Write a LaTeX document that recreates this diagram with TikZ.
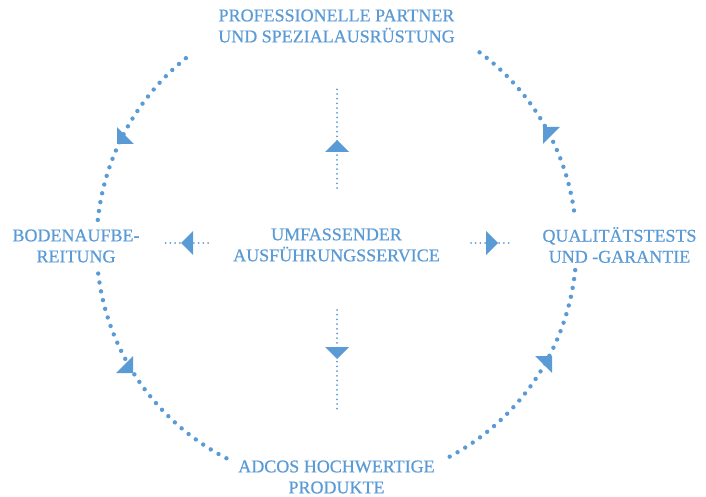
\documentclass[tikz,border=0pt]{standalone}
\usepackage{fontspec}
\setmainfont{Liberation Serif}
\newfontfamily\schrift[FakeBold=0.6]{Liberation Serif}
\definecolor{blau}{RGB}{91,155,213}
\tikzset{
  lbl/.style={text=blau, align=center, inner sep=0pt,
    font=\schrift\fontsize{18}{21}\selectfont},
  ring/.style={draw=blau, line width=4.4pt, line cap=round,
    dash pattern=on 0pt off 9pt},
  fine/.style={draw=blau, line width=2pt, line cap=round,
    dash pattern=on 0pt off 4.7pt},
  spitze/.pic={\fill[blau] (0,0) -- (-12,12) -- (-12,-12) -- cycle;}
}
\begin{document}
\begin{tikzpicture}[x=1pt, y=-1pt]
  \useasboundingbox (0,0) rectangle (706,497);
  \coordinate (c) at (336.5,245);
  \node[lbl] (partner) at (336.5,26) {PROFESSIONELLE PARTNER\\UND SPEZIALAUSRÜSTUNG};
  \node[lbl] (boden) at (76,246) {BODENAUFBE-\\REITUNG};
  \node[lbl] (service) at (336.5,245) {UMFASSENDER\\AUSFÜHRUNGSSERVICE};
  \node[lbl] (tests) at (619.5,245) {QUALITÄTSTESTS\\UND -GARANTIE};
  \node[lbl] (adcos) at (336.5,477) {ADCOS HOCHWERTIGE\\PRODUKTE};
  % outer ring
  \draw[ring] (c) ++(-53.4:240) arc[start angle=-53.4, end angle=-8, radius=240];
  \draw[ring] (c) ++(6:240) arc[start angle=6, end angle=64, radius=240];
  \draw[ring] (c) ++(117.3:240) arc[start angle=117.3, end angle=173.3, radius=240];
  \draw[ring] (c) ++(186:240) arc[start angle=186, end angle=233.2, radius=240];
  \pic[rotate=135] at (543,127) {spitze};
  \pic[rotate=225] at (117,144) {spitze};
  \pic[rotate=-45] at (133,373) {spitze};
  \pic[rotate=45] at (552,356) {spitze};
  % from the centre
  \coordinate (oben) at (337,89);
  \coordinate (unten) at (337,410);
  \coordinate (links) at (165,243);
  \coordinate (rechts) at (513,243);
  \draw[fine] (337,188) -- (oben);
  \draw[fine] (337,310) -- (unten);
  \draw[fine] (208,243) -- (links);
  \draw[fine] (471,243) -- (rechts);
  \pic[rotate=90] at (337,140) {spitze};
  \pic[rotate=-90] at (337,359) {spitze};
  \pic[rotate=180] at (181,243) {spitze};
  \pic at (498,243) {spitze};
\end{tikzpicture}
\end{document}
